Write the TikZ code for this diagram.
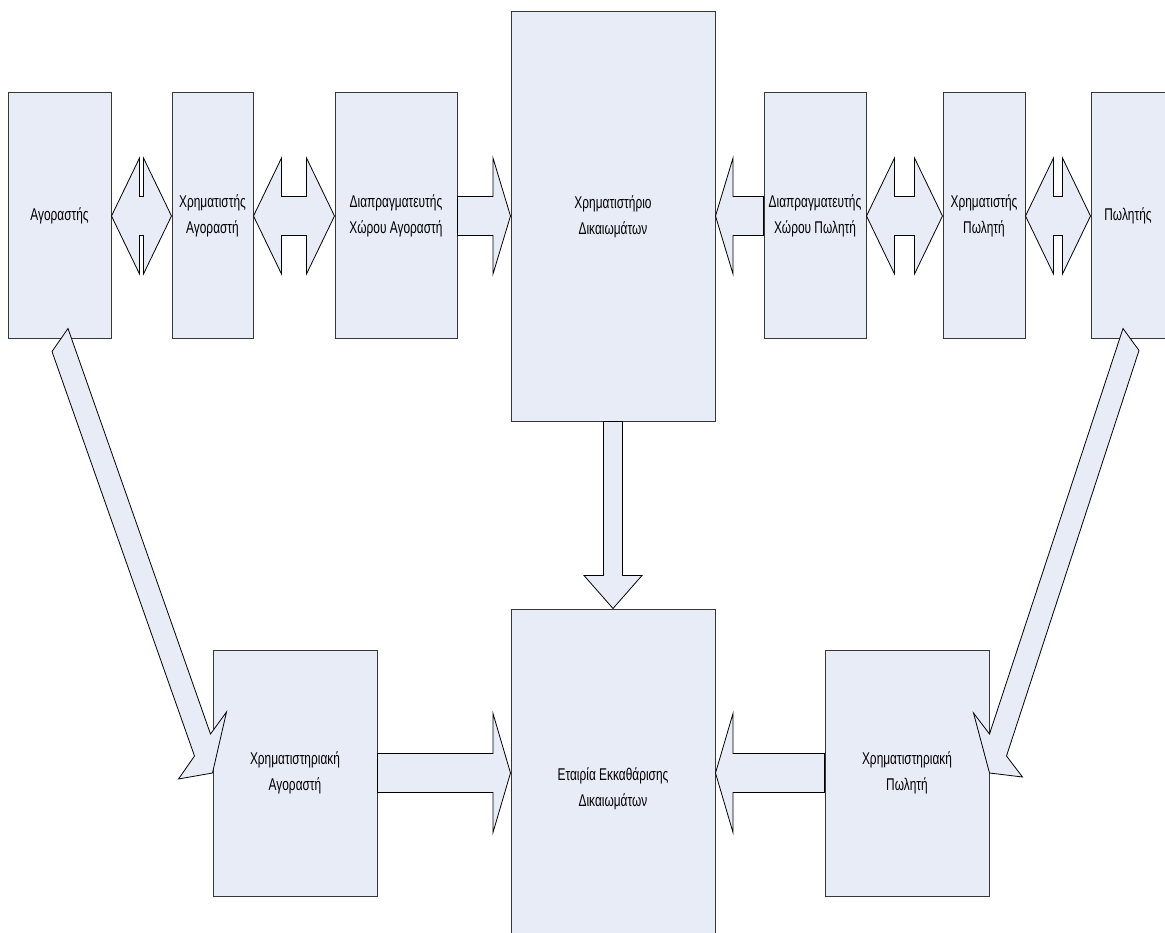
\documentclass[tikz,border=0pt]{standalone}
\usepackage{fontspec}
\newfontfamily\labfont{Liberation Sans}[FakeStretch=0.7]
\usetikzlibrary{calc}
\definecolor{boxfill}{RGB}{232,236,247}
\definecolor{boxline}{RGB}{55,55,55}
\begin{document}
\begin{tikzpicture}[x=1pt,y=-1pt,
  blk/.style={draw=boxline, line width=1pt, fill=boxfill, rectangle, inner sep=0pt,
    align=center, font=\labfont\fontsize{17}{26}\selectfont},
  barrow/.style={draw=black, line width=0.8pt, fill=boxfill, line join=miter}]
\useasboundingbox (0,0) rectangle (1165,933);
\clip (0,0) rectangle (1165,933);

% boxes
\node[blk, minimum width=103pt, minimum height=246pt] (agor) at (59.5,216) {Αγοραστής};
\node[blk, minimum width=81pt,  minimum height=246pt] (xag)  at (212.5,216) {Χρηματιστής\\Αγοραστή};
\node[blk, minimum width=122pt, minimum height=246pt] (dag)  at (396,216) {Διαπραγματευτής\\Χώρου Αγοραστή};
\node[blk, minimum width=204pt, minimum height=409pt] (xd)   at (613,216.5) {Χρηματιστήριο\\Δικαιωμάτων};
\node[blk, minimum width=102pt, minimum height=246pt] (dpo)  at (815,216) {Διαπραγματευτής\\Χώρου Πωλητή};
\node[blk, minimum width=82pt,  minimum height=246pt] (xpo)  at (984,216) {Χρηματιστής\\Πωλητή};
\node[blk, minimum width=74pt,  minimum height=246pt] (pol)  at (1128,216) {Πωλητής};
\node[blk, minimum width=204pt, minimum height=360pt] (eca)  at (613,789) {Εταιρία Εκκαθάρισης\\Δικαιωμάτων};
\node[blk, minimum width=164pt, minimum height=246pt] (xra)  at (295,773) {Χρηματιστηριακή\\Αγοραστή};
\node[blk, minimum width=164pt, minimum height=246pt] (xrp)  at (907,773) {Χρηματιστηριακή\\Πωλητή};

% double arrows, top row
\foreach \a/\b in {agor/xag, xag/dag, dpo/xpo, xpo/pol}{
  \draw[barrow] (\a.east) -- ($(\a.east)+(28,-58)$) -- ($(\a.east)+(28,-19.5)$)
    -- ($(\b.west)+(-28,-19.5)$) -- ($(\b.west)+(-28,-58)$) -- (\b.west)
    -- ($(\b.west)+(-28,58)$) -- ($(\b.west)+(-28,19.5)$)
    -- ($(\a.east)+(28,19.5)$) -- ($(\a.east)+(28,58)$) -- cycle;
}

% single arrows into Χρηματιστήριο Δικαιωμάτων
\coordinate (tipL) at (xd.west |- dag.east);
\draw[barrow] ($(dag.east)+(0,-19.5)$) -- ($(tipL)+(-17.5,-19.5)$) -- ($(tipL)+(-17.5,-58)$)
  -- (tipL) -- ($(tipL)+(-17.5,58)$) -- ($(tipL)+(-17.5,19.5)$) -- ($(dag.east)+(0,19.5)$) -- cycle;
\coordinate (tipR) at (xd.east |- dpo.west);
\draw[barrow] ($(dpo.west)+(0,-19.5)$) -- ($(tipR)+(17.5,-19.5)$) -- ($(tipR)+(17.5,-58)$)
  -- (tipR) -- ($(tipR)+(17.5,58)$) -- ($(tipR)+(17.5,19.5)$) -- ($(dpo.west)+(0,19.5)$) -- cycle;

% single arrows into Εταιρία Εκκαθάρισης Δικαιωμάτων
\coordinate (tipBL) at (eca.west |- xra.east);
\draw[barrow] ($(xra.east)+(0,-19.5)$) -- ($(tipBL)+(-17.5,-19.5)$) -- ($(tipBL)+(-17.5,-59.5)$)
  -- (tipBL) -- ($(tipBL)+(-17.5,59.5)$) -- ($(tipBL)+(-17.5,19.5)$) -- ($(xra.east)+(0,19.5)$) -- cycle;
\coordinate (tipBR) at (eca.east |- xrp.west);
\draw[barrow] ($(xrp.west)+(0,-19.5)$) -- ($(tipBR)+(17.5,-19.5)$) -- ($(tipBR)+(17.5,-59.5)$)
  -- (tipBR) -- ($(tipBR)+(17.5,59.5)$) -- ($(tipBR)+(17.5,19.5)$) -- ($(xrp.west)+(0,19.5)$) -- cycle;

% down arrow
\draw[barrow] ($(xd.south)+(-9.5,0)$) -- ($(eca.north)+(-9.5,-33)$) -- ($(eca.north)+(-29,-33)$)
  -- (eca.north) -- ($(eca.north)+(29,-33)$) -- ($(eca.north)+(9.5,-33)$) -- ($(xd.south)+(9.5,0)$) -- cycle;

% diagonal arrows
\draw[barrow] ($(agor.south)+(8.5,-11)$) -- ($(xra.west)+(-2,-39)$) -- ($(xra.west)+(14,-61)$)
  -- (xra.west) -- ($(xra.west)+(-34,6)$) -- ($(xra.west)+(-18,-17)$) -- ($(agor.south)+(-7.5,12)$) -- cycle;
\draw[barrow] ($(pol.south)+(-5,-11)$) -- ($(xrp.east)+(0,-39)$) -- ($(xrp.east)+(-16,-60)$)
  -- (xrp.east) -- ($(xrp.east)+(33,4)$) -- ($(xrp.east)+(17,-17)$) -- ($(pol.south)+(11,11)$) -- cycle;
\end{tikzpicture}
\end{document}
